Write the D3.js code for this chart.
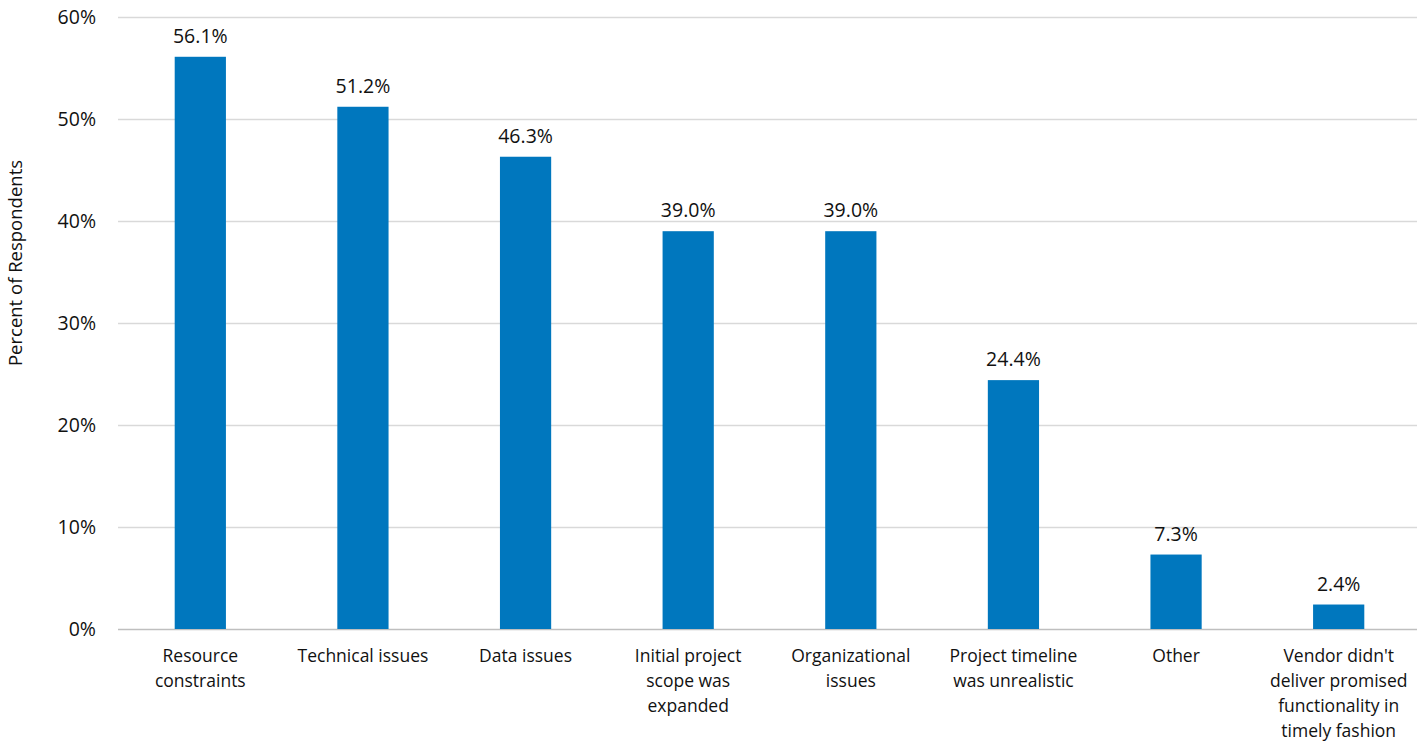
<!DOCTYPE html>
<html><head><meta charset="utf-8">
<script src="https://cdn.jsdelivr.net/npm/d3@7"></script>
<style>body{margin:0;background:#fff}svg{display:block}text{font-family:"Open Sans","Noto Sans",sans-serif;fill:#111}</style>
</head><body><svg id="c" width="1417" height="742"></svg>
<script>
const categories = [
  ["Resource", "constraints"],
  ["Technical issues"],
  ["Data issues"],
  ["Initial project", "scope was", "expanded"],
  ["Organizational", "issues"],
  ["Project timeline", "was unrealistic"],
  ["Other"],
  ["Vendor didn't", "deliver promised", "functionality in", "timely fashion"]
];
const values = [56.1, 51.2, 46.3, 39.0, 39.0, 24.4, 7.3, 2.4];
const yTicks = [0, 10, 20, 30, 40, 50, 60];
const yTitle = "Percent of Respondents";

(function(){
const svg = d3.select("#c");
const L = 119, R = 1420, T = 17, B = 629;
const x = d3.scaleBand().domain(d3.range(values.length)).range([L, R]).padding(0);
const y = d3.scaleLinear().domain([0, 60]).range([B, T]);
const barW = x.bandwidth() * 0.315;

svg.append("g").selectAll("line").data(yTicks).join("line")
  .attr("x1", 118).attr("x2", 1417)
  .attr("y1", d => y(d) + 0.5).attr("y2", d => y(d) + 0.5)
  .attr("stroke", d => d === 0 ? "#bfbfbf" : "#d9d9d9").attr("stroke-width", 1.5);

svg.append("g").selectAll("text").data(yTicks).join("text")
  .attr("x", 96).attr("y", d => y(d)).attr("dy", "0.35em")
  .attr("text-anchor", "end").style("font-size", "19.5px")
  .text(d => d + "%");

svg.append("g").selectAll("rect").data(values).join("rect")
  .attr("x", (d, i) => x(i) + x.bandwidth() / 2 - barW / 2)
  .attr("width", barW)
  .attr("y", d => y(d))
  .attr("height", d => y(0) - y(d))
  .attr("fill", "#0077be");

svg.append("g").selectAll("text").data(values).join("text")
  .attr("x", (d, i) => x(i) + x.bandwidth() / 2)
  .attr("y", d => y(d) - 14)
  .attr("text-anchor", "middle").style("font-size", "19.5px")
  .text(d => d.toFixed(1) + "%");

const xl = svg.append("g").selectAll("text").data(categories).join("text")
  .attr("x", (d, i) => x(i) + x.bandwidth() / 2)
  .attr("y", 662)
  .attr("text-anchor", "middle").style("font-size", "17.5px");
xl.each(function(lines, i) {
  d3.select(this).selectAll("tspan").data(lines).join("tspan")
    .attr("x", x(i) + x.bandwidth() / 2)
    .attr("dy", (l, j) => j === 0 ? 0 : 25)
    .text(l => l);
});

svg.append("text")
  .attr("transform", "translate(22,263) rotate(-90)")
  .attr("text-anchor", "middle").style("font-size", "18.5px")
  .text(yTitle);
})();
</script></body></html>
